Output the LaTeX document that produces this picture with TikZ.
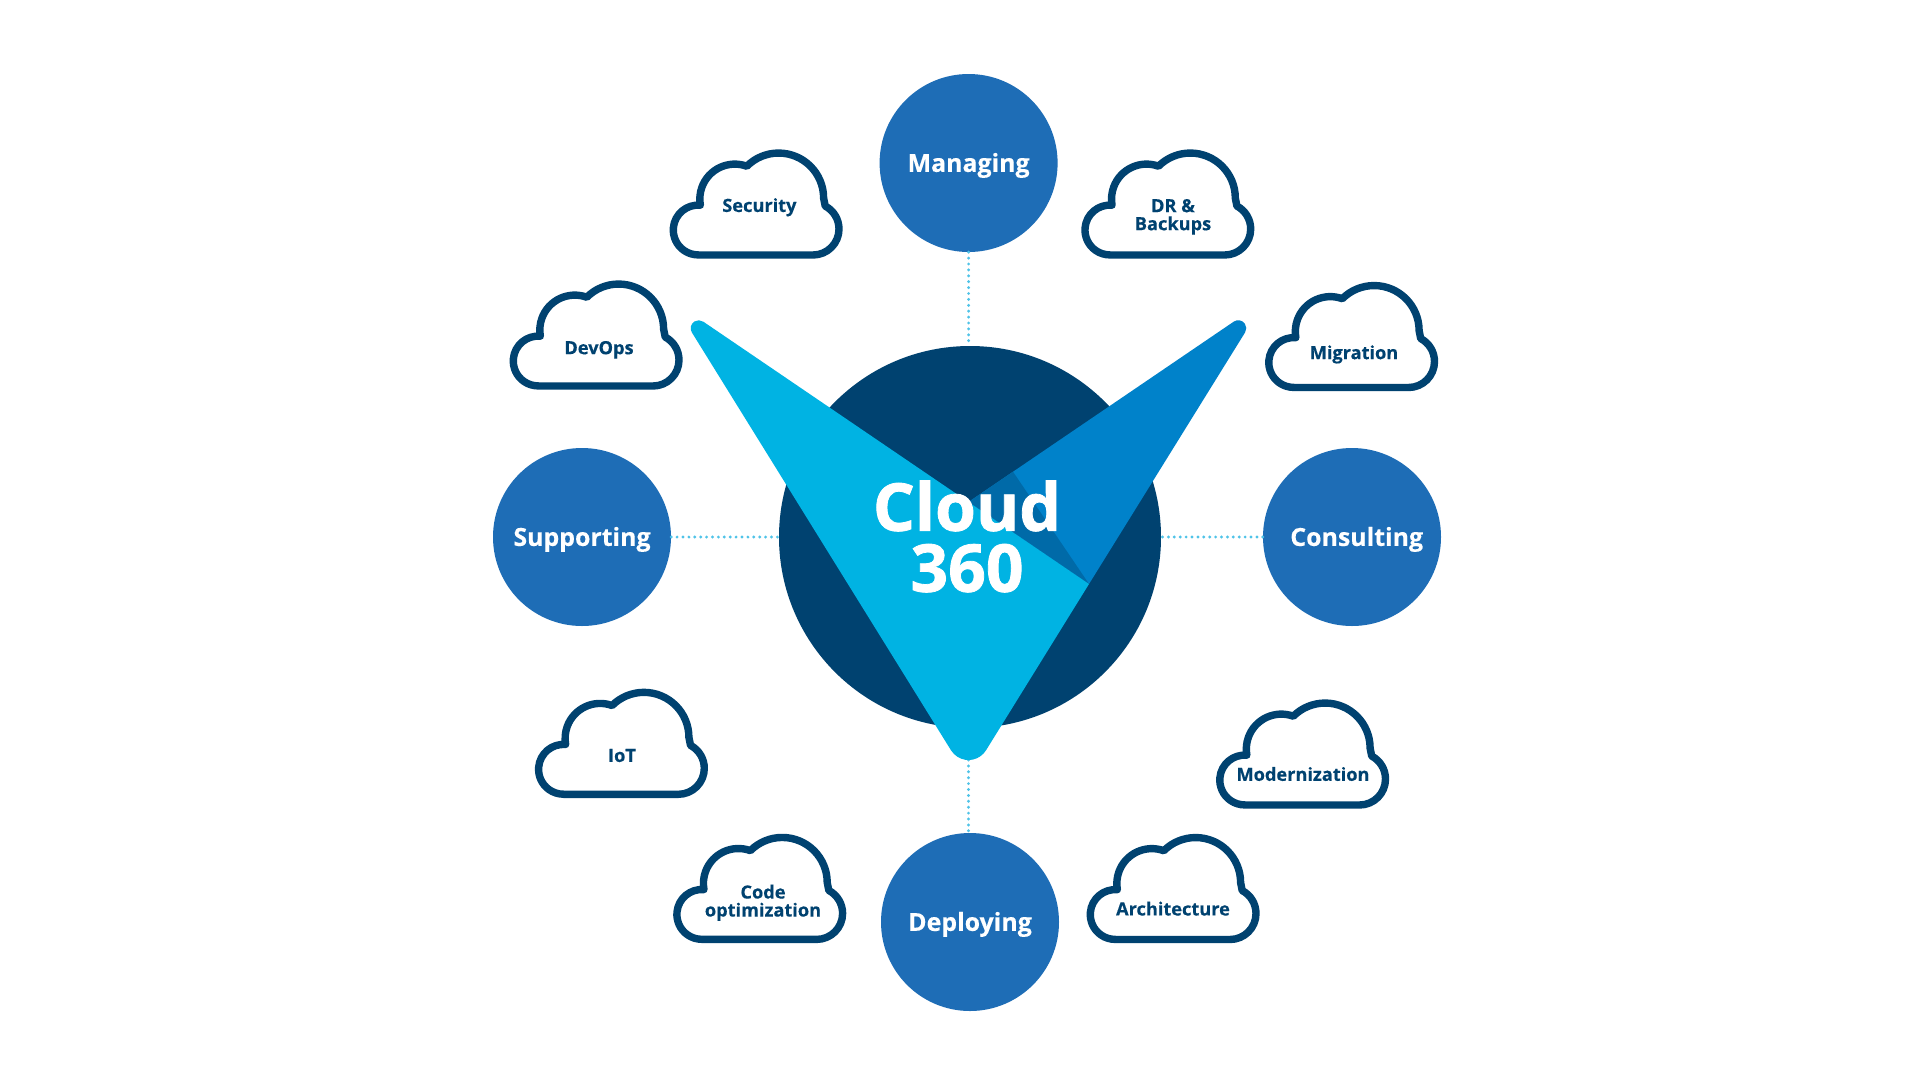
\documentclass[tikz,border=0pt]{standalone}
\usepackage{fontspec}
\setmainfont{Open Sans}
\definecolor{navy}{HTML}{004270}
\definecolor{midblue}{HTML}{1E6DB6}
\definecolor{lightv}{HTML}{00B3E3}
\definecolor{rightv}{HTML}{0082CA}
\definecolor{foldv}{HTML}{006AA8}
\definecolor{dotc}{HTML}{4FC3E8}
\tikzset{
  phasefont/.style={text=white,text height=17.8pt,text depth=0pt,font=\bfseries\fontsize{24.9}{30}\selectfont\addfontfeature{FakeBold=0.3}},
  phase/.style={circle,fill=midblue,minimum size=178pt,inner sep=0pt,phasefont},
  hubdisc/.style={circle,fill=navy,minimum size=382pt,inner sep=0pt},
  cloudtext/.style={text=navy,align=center,inner sep=0pt,font=\bfseries\fontsize{18.2}{18}\selectfont\addfontfeature{FakeBold=0.3}},
  dotline/.style={draw=dotc,line width=3.2pt,line cap=round,dash pattern=on 0pt off 5.9pt},
}
\newcommand{\cloudat}[2]{%
  \begin{scope}[shift={(#1,#2)}]
    \draw[navy,line width=7.4pt,line join=round,fill=white]
      (24.1,0) -- (139,0) arc[start angle=90,end angle=-62,radius=26pt]
      -- ++(-1.6,-8) arc[start angle=0,end angle=-135,radius=45pt]
      arc[start angle=-70,end angle=-190,radius=35pt]
      arc[start angle=-85,end angle=-270,radius=24.9pt] -- cycle;
  \end{scope}}
\begin{document}
\begin{tikzpicture}[x=1pt,y=1pt,yscale=-1]
\useasboundingbox[fill=white] (0,0) rectangle (1920,1080);
% phases and hub
\node[hubdisc] (hub) at (970,537) {};
\node[phase] (mgr) at (968.6,163) {Managing};
\node[phase] (sup) at (582,537) {Supporting};
\node[phase] (con) at (1352,537) {};
\node[phase] (dep) at (970,922) {Deploying};
\node[phasefont,inner sep=0pt] (conlabel) at (1356.7,537) {Consulting};
\coordinate (vtip) at (968.5,760);
% connectors
\draw[dotline] (mgr.south) -- (mgr.south |- hub.north);
\draw[dotline] (sup.east) -- (hub.west);
\draw[dotline] (con.west) -- (hub.east);
\draw[dotline] (vtip) -- (vtip |- dep.north);
% V mark
\fill[rightv] (968.5,502) -- (1233.8,321.6) arc[start angle=-124,end angle=32,radius=8pt] -- (1089,584) -- cycle;
\fill[foldv] (968.5,502) -- (1013,471.7) -- (1089,584) -- cycle;
\fill[lightv] (703.2,321.6) -- (1089,584) -- (986,750.3)
  arc[start angle=31.9,end angle=148.1,radius=20.6pt]
  -- (691.9,332.5) arc[start angle=148,end angle=304,radius=8pt] -- cycle;
\node[text=white,align=center,inner sep=0pt,font=\bfseries\fontsize{66}{61}\selectfont\addfontfeature{FakeBold=1.2}] (title) at (967,536.5) {Cloud\\360};
% clouds
\cloudat{674}{255}
\cloudat{1085.7}{255}
\cloudat{514}{386}
\cloudat{1269.5}{387.5}
\cloudat{539.3}{794.3}
\cloudat{1220.5}{805}
\cloudat{677.6}{939.4}
\cloudat{1091}{939.5}
\node[cloudtext] (t1) at (759.4,207.2) {Security};
\node[cloudtext] (t2) at (1173,216.8) {DR \&\\Backups};
\node[cloudtext] (t3) at (599,349.8) {DevOps};
\node[cloudtext] (t4) at (1354,354.4) {Migration};
\node[cloudtext] (t5) at (622,755.5) {IoT};
\node[cloudtext] (t6) at (1303,774) {Modernization};
\node[cloudtext] (t7) at (763,902.8) {Code\\optimization};
\node[cloudtext] (t8) at (1173,908.6) {Architecture};
\end{tikzpicture}
\end{document}
